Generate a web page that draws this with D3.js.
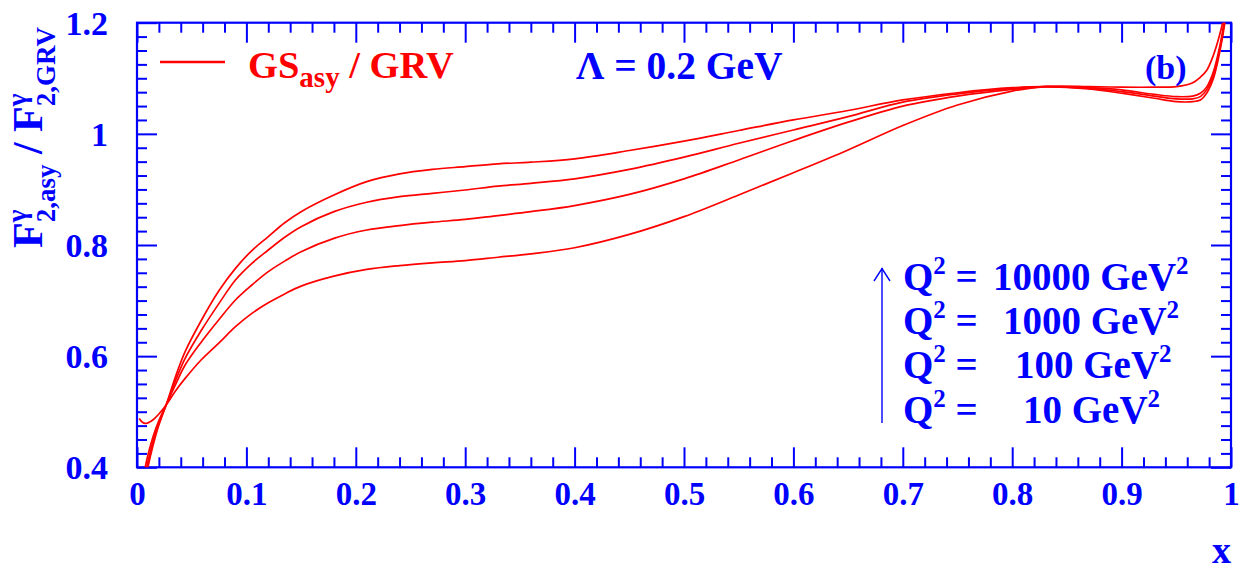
<!DOCTYPE html>
<html>
<head>
<meta charset="utf-8">
<script src="https://cdn.jsdelivr.net/npm/d3@7"></script>
<style>
  html, body { margin: 0; padding: 0; background: #fff; }
  svg { display: block; }
  text { font-family: "Liberation Serif", "Times New Roman", serif; font-weight: bold; white-space: pre; }
</style>
</head>
<body>
<svg id="chart" width="1242" height="572"></svg>
<script>
// ---------------- data ----------------
const xValues = [0.002, 0.005, 0.0075, 0.01, 0.015, 0.02, 0.027, 0.035, 0.044, 0.059, 0.075, 0.09, 0.105, 0.12, 0.135, 0.15, 0.18, 0.21, 0.24, 0.27, 0.30, 0.33, 0.36, 0.40, 0.45, 0.50, 0.55, 0.60, 0.65, 0.70, 0.75, 0.80, 0.83, 0.87, 0.90, 0.93, 0.95, 0.965, 0.972, 0.978, 0.984, 0.990, 0.994, 0.998];
const ratioQ2_10 = [0.488, 0.481, 0.479, 0.480, 0.486, 0.496, 0.513, 0.537, 0.560, 0.594, 0.624, 0.653, 0.677, 0.696, 0.712, 0.726, 0.744, 0.756, 0.763, 0.768, 0.772, 0.778, 0.784, 0.795, 0.819, 0.851, 0.890, 0.930, 0.971, 1.015, 1.052, 1.077, 1.085, 1.085, 1.084, 1.084, 1.085, 1.092, 1.102, 1.115, 1.142, 1.181, 1.215, 1.26];
const ratioQ2_100 = [0.34, 0.375, 0.400, 0.422, 0.457, 0.484, 0.514, 0.548, 0.584, 0.626, 0.666, 0.701, 0.728, 0.752, 0.771, 0.788, 0.812, 0.827, 0.835, 0.841, 0.846, 0.853, 0.860, 0.871, 0.891, 0.919, 0.953, 0.988, 1.021, 1.050, 1.068, 1.080, 1.085, 1.083, 1.079, 1.071, 1.067, 1.068, 1.073, 1.085, 1.112, 1.16, 1.205, 1.26];
const ratioQ2_1000 = [0.32, 0.357, 0.385, 0.41, 0.449, 0.479, 0.514, 0.555, 0.596, 0.647, 0.695, 0.737, 0.767, 0.791, 0.814, 0.833, 0.860, 0.877, 0.887, 0.893, 0.899, 0.906, 0.911, 0.919, 0.936, 0.958, 0.983, 1.007, 1.031, 1.057, 1.072, 1.082, 1.085, 1.082, 1.076, 1.068, 1.063, 1.063, 1.067, 1.08, 1.106, 1.155, 1.20, 1.26];
const ratioQ2_10000 = [0.30, 0.34, 0.372, 0.40, 0.442, 0.476, 0.514, 0.562, 0.608, 0.665, 0.718, 0.758, 0.790, 0.815, 0.840, 0.860, 0.890, 0.914, 0.928, 0.936, 0.941, 0.946, 0.949, 0.955, 0.970, 0.987, 1.006, 1.025, 1.042, 1.061, 1.074, 1.083, 1.085, 1.081, 1.073, 1.064, 1.058, 1.058, 1.061, 1.074, 1.10, 1.15, 1.195, 1.26];

const xMajorTicks = [0, 0.1, 0.2, 0.3, 0.4, 0.5, 0.6, 0.7, 0.8, 0.9, 1];
const xTickLabels = ["0", "0.1", "0.2", "0.3", "0.4", "0.5", "0.6", "0.7", "0.8", "0.9", "1"];
const yMajorTicks = [0.4, 0.6, 0.8, 1.0, 1.2];
const yTickLabels = ["0.4", "0.6", "0.8", "1", "1.2"];
const q2Values = ["10000", "1000", "100", "10"];

(function () {
// ---------------- layout ----------------
const BLUE = "#0000ff", RED = "#ff0000";
const pL = 137, pR = 1231, pT = 22.7, pB = 467.3;

const svg = d3.select("#chart");
const x = d3.scaleLinear().domain([0, 1]).range([pL, pR]);
const y = d3.scaleLinear().domain([0.4, 1.2]).range([pB, pT]);

const xMinor = d3.range(0, 1.0001, 0.02).filter(v => Math.abs(v * 10 - Math.round(v * 10)) > 1e-6);
const yMinor = d3.range(0.4, 1.2001, 0.025).filter(v => Math.abs(v * 5 - Math.round(v * 5)) > 1e-6);

function styleAxis(g) {
  g.select(".domain").remove();
  g.selectAll("line").attr("stroke", BLUE).attr("stroke-width", 2);
  g.selectAll("text").attr("fill", BLUE);
}

// bottom axis
svg.append("g").attr("transform", `translate(0,${pB})`)
  .call(d3.axisBottom(x).tickValues(xMinor).tickSize(-10).tickFormat(""))
  .call(styleAxis);
svg.append("g").attr("transform", `translate(0,${pB})`)
  .call(d3.axisBottom(x).tickValues(xMajorTicks).tickSize(-20).tickPadding(14)
        .tickFormat((d, i) => xTickLabels[i]))
  .call(styleAxis)
  .call(g => g.selectAll("text").attr("font-size", 33).attr("font-family", "Liberation Serif").attr("font-weight", "bold"));
// top axis
svg.append("g").attr("transform", `translate(0,${pT})`)
  .call(d3.axisTop(x).tickValues(xMinor).tickSize(-10).tickFormat(""))
  .call(styleAxis);
svg.append("g").attr("transform", `translate(0,${pT})`)
  .call(d3.axisTop(x).tickValues(xMajorTicks).tickSize(-20).tickFormat(""))
  .call(styleAxis);
// left axis
svg.append("g").attr("transform", `translate(${pL},0)`)
  .call(d3.axisLeft(y).tickValues(yMinor).tickSize(-10).tickFormat(""))
  .call(styleAxis);
svg.append("g").attr("transform", `translate(${pL},0)`)
  .call(d3.axisLeft(y).tickValues(yMajorTicks).tickSize(-20).tickPadding(29)
        .tickFormat((d, i) => yTickLabels[i]))
  .call(styleAxis)
  .call(g => g.selectAll("text").attr("font-size", 34).attr("dy", "0.34em").attr("font-family", "Liberation Serif").attr("font-weight", "bold"));
// right axis
svg.append("g").attr("transform", `translate(${pR},0)`)
  .call(d3.axisRight(y).tickValues(yMinor).tickSize(-10).tickFormat(""))
  .call(styleAxis);
svg.append("g").attr("transform", `translate(${pR},0)`)
  .call(d3.axisRight(y).tickValues(yMajorTicks).tickSize(-20).tickFormat(""))
  .call(styleAxis);

// frame
svg.append("rect").attr("x", pL).attr("y", pT).attr("width", pR - pL).attr("height", pB - pT)
  .attr("fill", "none").attr("stroke", BLUE).attr("stroke-width", 2.2);

// curves
svg.append("clipPath").attr("id", "plotclip").append("rect")
  .attr("x", pL).attr("y", pT).attr("width", pR - pL).attr("height", pB - pT);
const line = d3.line().x(d => x(d[0])).y(d => y(d[1])).curve(d3.curveCatmullRom.alpha(0.5));
const allSeries = [ratioQ2_10000, ratioQ2_1000, ratioQ2_100, ratioQ2_10];
svg.append("g").attr("clip-path", "url(#plotclip)")
  .selectAll("path").data(allSeries).join("path")
  .attr("d", s => line(xValues.map((xv, i) => [xv, s[i]])))
  .attr("fill", "none").attr("stroke", RED).attr("stroke-width", 1.7);

// legend
svg.append("line").attr("x1", 160).attr("x2", 225).attr("y1", 62).attr("y2", 62)
  .attr("stroke", RED).attr("stroke-width", 2.5);
const leg = svg.append("text").attr("x", 248).attr("y", 78).attr("font-size", 38.5).attr("fill", RED);
leg.append("tspan").text("GS");
leg.append("tspan").attr("font-size", 29).attr("dy", 9).text("asy");
leg.append("tspan").attr("dy", -9).text(" / GRV");

svg.append("text").attr("x", 576).attr("y", 79).attr("font-size", 39.5).attr("fill", BLUE).text("Λ = 0.2 GeV");
svg.append("text").attr("x", 1145).attr("y", 79).attr("font-size", 34).attr("fill", BLUE).text("(b)");

// Q^2 labels
const qBase = [290, 334, 378.3, 422.6];
const qValX = [993, 1003, 1015, 1023];
q2Values.forEach((v, i) => {
  const t = svg.append("text").attr("x", 903).attr("y", qBase[i]).attr("font-size", 39).attr("fill", BLUE);
  t.append("tspan").text("Q");
  t.append("tspan").attr("font-size", 25).attr("dy", -16).text("2");
  t.append("tspan").attr("dy", 16).text(" =");
  const t2 = svg.append("text").attr("x", qValX[i]).attr("y", qBase[i]).attr("font-size", 39).attr("fill", BLUE);
  t2.append("tspan").text(v + " GeV");
  t2.append("tspan").attr("font-size", 25).attr("dy", -16).text("2");
});
// arrow
svg.append("line").attr("x1", 882).attr("x2", 882).attr("y1", 268).attr("y2", 423)
  .attr("stroke", BLUE).attr("stroke-width", 1.4);
svg.append("path").attr("d", "M874,281 L882,268.5 L890,281")
  .attr("fill", "none").attr("stroke", BLUE).attr("stroke-width", 1.4);

// x title
svg.append("text").attr("x", 1231).attr("y", 563).attr("text-anchor", "end").attr("font-size", 38)
  .attr("fill", BLUE).text("x");

// y title (rotated, built piecewise)
const yt = svg.append("g").attr("transform", "translate(42,248) rotate(-90)");
const MAIN = 42, SMALL = 27;
let cx = 0;
function part(str, size, dy) {
  const t = yt.append("text").attr("x", cx).attr("y", dy).attr("font-size", size).attr("fill", BLUE).text(str);
  return t.node().getComputedTextLength();
}
function stacked(sup, sub) {
  const w1 = part(sup, SMALL, -16);
  const w2 = part(sub, SMALL, 13);
  cx += Math.max(w1, w2);
}
cx += part("F", MAIN, 0);
stacked("γ", "2,asy");
cx += part("\u00a0/\u00a0F", MAIN, 0);
stacked("γ", "2,GRV");
})();
</script>
</body>
</html>
